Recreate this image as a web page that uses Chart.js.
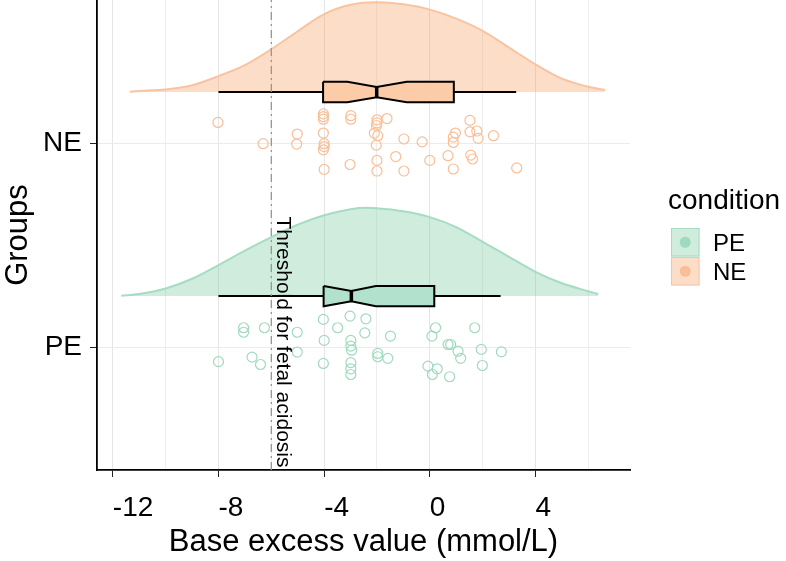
<!DOCTYPE html>
<html>
<head>
<meta charset="utf-8">
<script src="https://cdn.jsdelivr.net/npm/chart.js@4.4.1/dist/chart.umd.min.js"></script>
<style>
  body { margin: 0; background: #fff; }
</style>
</head>
<body>
<canvas id="chart" width="786" height="561"></canvas>
<script>
// groups on the y axis, bottom to top
const groups = ['PE', 'NE'];
const xTickLabels = [-12, -8, -4, 0, 4];
const thresholdValue = -6;
const thresholdLabel = 'Threshold for fetal acidosis';

// half-violin density (x = base excess, h = height in group units)
const densXPE = [-11.68, -11, -10, -9, -8, -7, -6, -5, -4, -3, -2.4, -2, -1, 0, 1, 2, 3, 4, 5, 6, 6.38];
const densHPE = [0.002, 0.010, 0.037, 0.085, 0.152, 0.223, 0.289, 0.350, 0.396, 0.426, 0.433, 0.431, 0.416, 0.387, 0.338, 0.266, 0.192, 0.119, 0.063, 0.024, 0.010];
const densXNE = [-11.36, -11, -10, -9, -8, -7, -6, -5, -4, -3, -2, -1, 0, 1, 2, 3, 4, 5, 6, 6.63];
const densHNE = [0.002, 0.005, 0.012, 0.033, 0.078, 0.132, 0.210, 0.298, 0.382, 0.428, 0.440, 0.430, 0.404, 0.360, 0.300, 0.218, 0.136, 0.066, 0.026, 0.010];

// notched box stats, order PE, NE
const whiskLo = [-8, -8];
const boxQ1 = [-4.02, -4.04];
const notchLo = [-4.02, -3.12];
const boxMed = [-2.97, -2.01];
const notchHi = [-2.04, -0.87];
const boxQ3 = [0.17, 0.91];
const whiskHi = [2.68, 3.27];

// raw observations with their vertical jitter
const ptsXPE = [-7.05, -7.05, -6.26, -8.00, -6.73, -6.41, -5.02, -5.02, -4.03, -4.00, -4.03, -3.49, -3.02, -2.42, -2.46, -2.99, -2.99, -2.96, -2.99, -2.99, -2.99, -1.97, -1.97, -1.59, -1.49, 0.22, 0.08, -0.07, 0.10, 0.28, 0.69, 0.79, 1.07, 1.17, 0.75, 1.70, 1.95, 1.99, 2.71];
const ptsJPE = [0.095, 0.073, 0.095, -0.071, -0.049, -0.085, 0.073, -0.024, 0.136, 0.033, -0.080, 0.095, 0.152, 0.139, 0.070, 0.033, 0.005, -0.015, -0.076, -0.106, -0.134, -0.031, -0.047, -0.055, 0.054, 0.095, 0.054, -0.093, -0.134, -0.106, 0.013, 0.013, -0.020, -0.055, -0.145, 0.095, -0.011, -0.090, -0.023];
const ptsXNE = [-8.02, -6.31, -5.02, -5.04, -4.03, -4.03, -4.03, -4.03, -4.00, -4.00, -4.03, -4.00, -2.99, -2.99, -3.02, -2.00, -2.00, -2.02, -1.62, -2.10, -1.97, -2.03, -2.00, -2.00, -0.98, -1.29, -0.98, -0.29, 0.00, 0.69, 0.89, 0.89, 0.89, 0.97, 1.52, 1.52, 1.78, 1.83, 1.55, 1.62, 2.41, 3.29];
const ptsJNE = [0.101, -0.003, 0.044, -0.005, 0.143, 0.130, 0.117, 0.049, -0.003, -0.017, -0.033, -0.129, 0.134, 0.117, -0.105, 0.114, 0.099, 0.086, 0.120, 0.049, 0.036, -0.010, -0.085, -0.137, 0.020, -0.066, -0.137, 0.006, -0.085, -0.062, -0.127, 0.029, 0.003, 0.049, 0.111, 0.055, 0.059, 0.023, -0.059, -0.078, 0.036, -0.122];

const FONT = "'Liberation Sans', Arial, sans-serif";
const cloudOffset = 0.25;
const boxHalf = 0.05;
const yMin = 0.398, yMax = 2.701;

const colors = {
  PE: { fill: 'rgba(118,201,158,0.35)', line: 'rgb(165,220,195)', box: 'rgb(178,226,205)', pt: 'rgb(160,218,190)', key: 'rgb(207,236,221)' },
  NE: { fill: 'rgba(246,161,98,0.35)', line: 'rgb(250,195,160)', box: 'rgb(252,203,168)', pt: 'rgb(250,190,150)', key: 'rgb(252,222,200)' }
};

const dens = { PE: [densXPE, densHPE], NE: [densXNE, densHNE] };
const pts = { PE: [ptsXPE, ptsJPE], NE: [ptsXNE, ptsJNE] };

const datasets = [];

// threshold line
datasets.push({
  data: [{ x: thresholdValue, y: yMin }, { x: thresholdValue, y: yMax }],
  showLine: true, borderColor: 'rgb(150,150,150)', borderWidth: 1.3,
  borderDash: [8, 4, 2, 4], pointRadius: 0, order: 0
});

groups.forEach((g, i) => {
  const c = i + 1;
  const base = c + cloudOffset;
  const col = colors[g];
  const [dx, dh] = dens[g];
  datasets.push({
    data: dx.map((x, k) => ({ x: x, y: base + dh[k] })),
    showLine: true, fill: { value: base }, backgroundColor: col.fill,
    borderColor: col.line, borderWidth: 2, pointRadius: 0,
    cubicInterpolationMode: 'monotone', order: 6
  });
  // whiskers
  datasets.push({
    data: [{ x: whiskLo[i], y: base }, { x: boxQ1[i], y: base }],
    showLine: true, borderColor: '#000', borderWidth: 2, pointRadius: 0, order: 5
  });
  datasets.push({
    data: [{ x: boxQ3[i], y: base }, { x: whiskHi[i], y: base }],
    showLine: true, borderColor: '#000', borderWidth: 2, pointRadius: 0, order: 5
  });
  // notched box
  const top = base + boxHalf, bot = base - boxHalf;
  const nTop = base + boxHalf / 2, nBot = base - boxHalf / 2;
  datasets.push({
    data: [
      { x: boxQ1[i], y: top }, { x: notchLo[i], y: top }, { x: boxMed[i], y: nTop },
      { x: notchHi[i], y: top }, { x: boxQ3[i], y: top }, { x: boxQ3[i], y: bot },
      { x: notchHi[i], y: bot }, { x: boxMed[i], y: nBot }, { x: notchLo[i], y: bot },
      { x: boxQ1[i], y: bot }, { x: boxQ1[i], y: top }
    ],
    showLine: true, fill: 'shape', backgroundColor: col.box, borderColor: '#000',
    borderWidth: 2, borderJoinStyle: 'miter', pointRadius: 0, order: 4
  });
  datasets.push({
    data: [{ x: boxMed[i], y: nBot }, { x: boxMed[i], y: nTop }],
    showLine: true, borderColor: '#000', borderWidth: 3.5, pointRadius: 0, order: 3
  });
  // points
  const [px, pj] = pts[g];
  datasets.push({
    data: px.map((x, k) => ({ x: x, y: c + pj[k] })),
    showLine: false, pointStyle: 'circle', pointRadius: 5, borderWidth: 1.2,
    borderColor: col.pt, backgroundColor: 'rgba(0,0,0,0)', order: 2
  });
});

const extras = {
  id: 'extras',
  beforeDraw(chart) {
    const ctx = chart.ctx;
    ctx.save();
    ctx.fillStyle = '#fff';
    ctx.fillRect(0, 0, chart.width, chart.height);
    ctx.restore();
  },
  afterDraw(chart) {
    const ctx = chart.ctx;
    const xs = chart.scales.x, ys = chart.scales.y;
    // threshold annotation
    ctx.save();
    ctx.translate(xs.getPixelForValue(thresholdValue) + 6, ys.getPixelForValue(1.64));
    ctx.rotate(Math.PI / 2);
    ctx.font = '21px ' + FONT;
    ctx.fillStyle = '#000';
    ctx.textBaseline = 'alphabetic';
    ctx.textAlign = 'left';
    ctx.fillText(thresholdLabel, 0, 0);
    ctx.restore();

    // legend
    const lx = 671, ly = 228, key = 28.5;
    ctx.save();
    ctx.fillStyle = '#000';
    ctx.font = '28px ' + FONT;
    ctx.textBaseline = 'alphabetic';
    ctx.fillText('condition', 668, 209);
    groups.forEach((g, i) => {
      const y0 = ly + i * (key + 0.5);
      ctx.fillStyle = colors[g].key;
      ctx.fillRect(lx, y0, key, key);
      ctx.strokeStyle = colors[g].line;
      ctx.lineWidth = 1;
      ctx.strokeRect(lx + 0.5, y0 + 0.5, key - 1, key - 1);
      ctx.beginPath();
      ctx.arc(lx + key / 2, y0 + key / 2, 5.5, 0, Math.PI * 2);
      ctx.fillStyle = colors[g].pt;
      ctx.fill();
      ctx.fillStyle = '#000';
      ctx.font = '24px ' + FONT;
      ctx.fillText(g, 713, y0 + key / 2 + 8.5);
    });
    ctx.restore();
  }
};

new Chart(document.getElementById('chart'), {
  type: 'scatter',
  data: { datasets: datasets },
  options: {
    responsive: false,
    animation: false,
    devicePixelRatio: 1,
    layout: { autoPadding: false, padding: { right: 156, top: 0, left: 0, bottom: 0 } },
    plugins: { legend: { display: false }, tooltip: { enabled: false } },
    scales: {
      x: {
        type: 'linear', min: -12.6, max: 7.58,
        afterBuildTicks: (ax) => {
          const t = [];
          for (let v = -12; v <= 6; v += 2) t.push({ value: v });
          ax.ticks = t;
        },
        afterFit: (ax) => { ax.height = 91; ax.paddingLeft = 0; ax.paddingRight = 0; },
        ticks: {
          color: '#000', font: { family: FONT, size: 28 }, padding: 14, maxRotation: 0, align: 'start',
          callback: (v) => xTickLabels.includes(v) ? String(v) : ''
        },
        grid: {
          color: (ctx) => xTickLabels.includes(ctx.tick && ctx.tick.value) ? 'rgb(229,229,229)' : 'rgb(238,238,238)',
          tickColor: (ctx) => xTickLabels.includes(ctx.tick && ctx.tick.value) ? '#222' : 'rgba(0,0,0,0)',
          tickLength: 7, lineWidth: 1
        },
        border: { display: true, color: '#000', width: 1.8 },
        title: { display: true, text: 'Base excess value (mmol/L)', color: '#000', font: { family: FONT, size: 31 }, padding: { top: 0, bottom: 0 } }
      },
      y: {
        type: 'linear', min: yMin, max: yMax,
        afterBuildTicks: (ax) => { ax.ticks = groups.map((g, i) => ({ value: i + 1 })); },
        afterFit: (ax) => { ax.width = 97; ax.paddingTop = 0; ax.paddingBottom = 0; },
        ticks: {
          color: '#000', font: { family: FONT, size: 28 }, padding: 8,
          callback: (v) => groups[v - 1]
        },
        grid: { color: 'rgb(235,235,235)', tickColor: '#222', tickLength: 7, lineWidth: 1 },
        border: { display: true, color: '#000', width: 1.8 },
        title: { display: true, text: 'Groups', color: '#000', font: { family: FONT, size: 31 }, padding: { top: 0, bottom: 0 } }
      }
    }
  },
  plugins: [extras]
});
</script>
</body>
</html>
